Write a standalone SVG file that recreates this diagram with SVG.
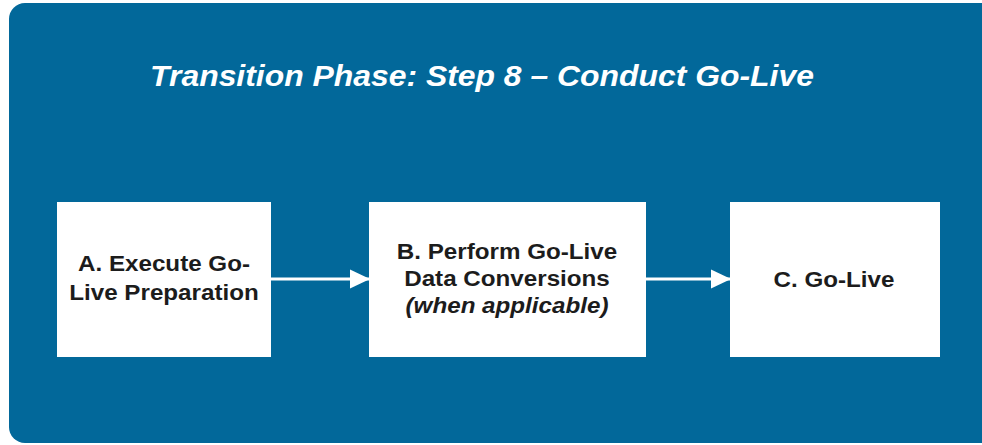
<svg xmlns="http://www.w3.org/2000/svg" width="982" height="445" viewBox="0 0 982 445">
  <defs>
    <style>
      .step { fill: #ffffff; }
      .label { font-family: "Liberation Sans", Arial, sans-serif; font-weight: bold; font-size: 22px; fill: #1c1c1c; text-anchor: middle; }
      .note { font-style: italic; }
      .title { font-family: "Liberation Sans", Arial, sans-serif; font-weight: bold; font-style: italic; font-size: 29px; fill: #ffffff; text-anchor: middle; }
      .link { stroke: #ffffff; stroke-width: 3; fill: none; }
    </style>
    <marker id="head" markerWidth="20" markerHeight="20" refX="19" refY="10" orient="auto" markerUnits="userSpaceOnUse">
      <path d="M0,0.5 L20,10 L0,19.5 Z" fill="#ffffff"/>
    </marker>
  </defs>

  <!-- page and phase panel -->
  <rect x="0" y="0" width="982" height="445" fill="#ffffff"/>
  <rect id="panel" x="9" y="3" width="1000" height="440" rx="16" ry="16" fill="#02689a"/>
  <g transform="translate(482 0) scale(1.1 1)">
    <text class="title" x="0" y="86">Transition Phase: Step 8 – Conduct Go-Live</text>
  </g>

  <!-- connectors -->
  <g id="connectors">
    <line class="link" x1="271" y1="279" x2="369" y2="279" marker-end="url(#head)"/>
    <line class="link" x1="646" y1="279" x2="730" y2="279" marker-end="url(#head)"/>
  </g>

  <!-- steps: labels are drawn slightly widened -->
  <g id="step-a">
    <rect class="step" x="57" y="202" width="214" height="155"/>
    <g transform="translate(164 0) scale(1.1 1)">
      <text class="label" x="0" y="271">A. Execute Go-</text>
      <text class="label" x="0" y="300">Live Preparation</text>
    </g>
  </g>
  <g id="step-b">
    <rect class="step" x="369" y="202" width="277" height="155"/>
    <g transform="translate(507 0) scale(1.1 1)">
      <text class="label" x="0" y="259">B. Perform Go-Live</text>
      <text class="label" x="0" y="286">Data Conversions</text>
      <text class="label note" x="0" y="313">(when applicable)</text>
    </g>
  </g>
  <g id="step-c">
    <rect class="step" x="730" y="202" width="210" height="155"/>
    <g transform="translate(834 0) scale(1.1 1)">
      <text class="label" x="0" y="287">C. Go-Live</text>
    </g>
  </g>
</svg>
